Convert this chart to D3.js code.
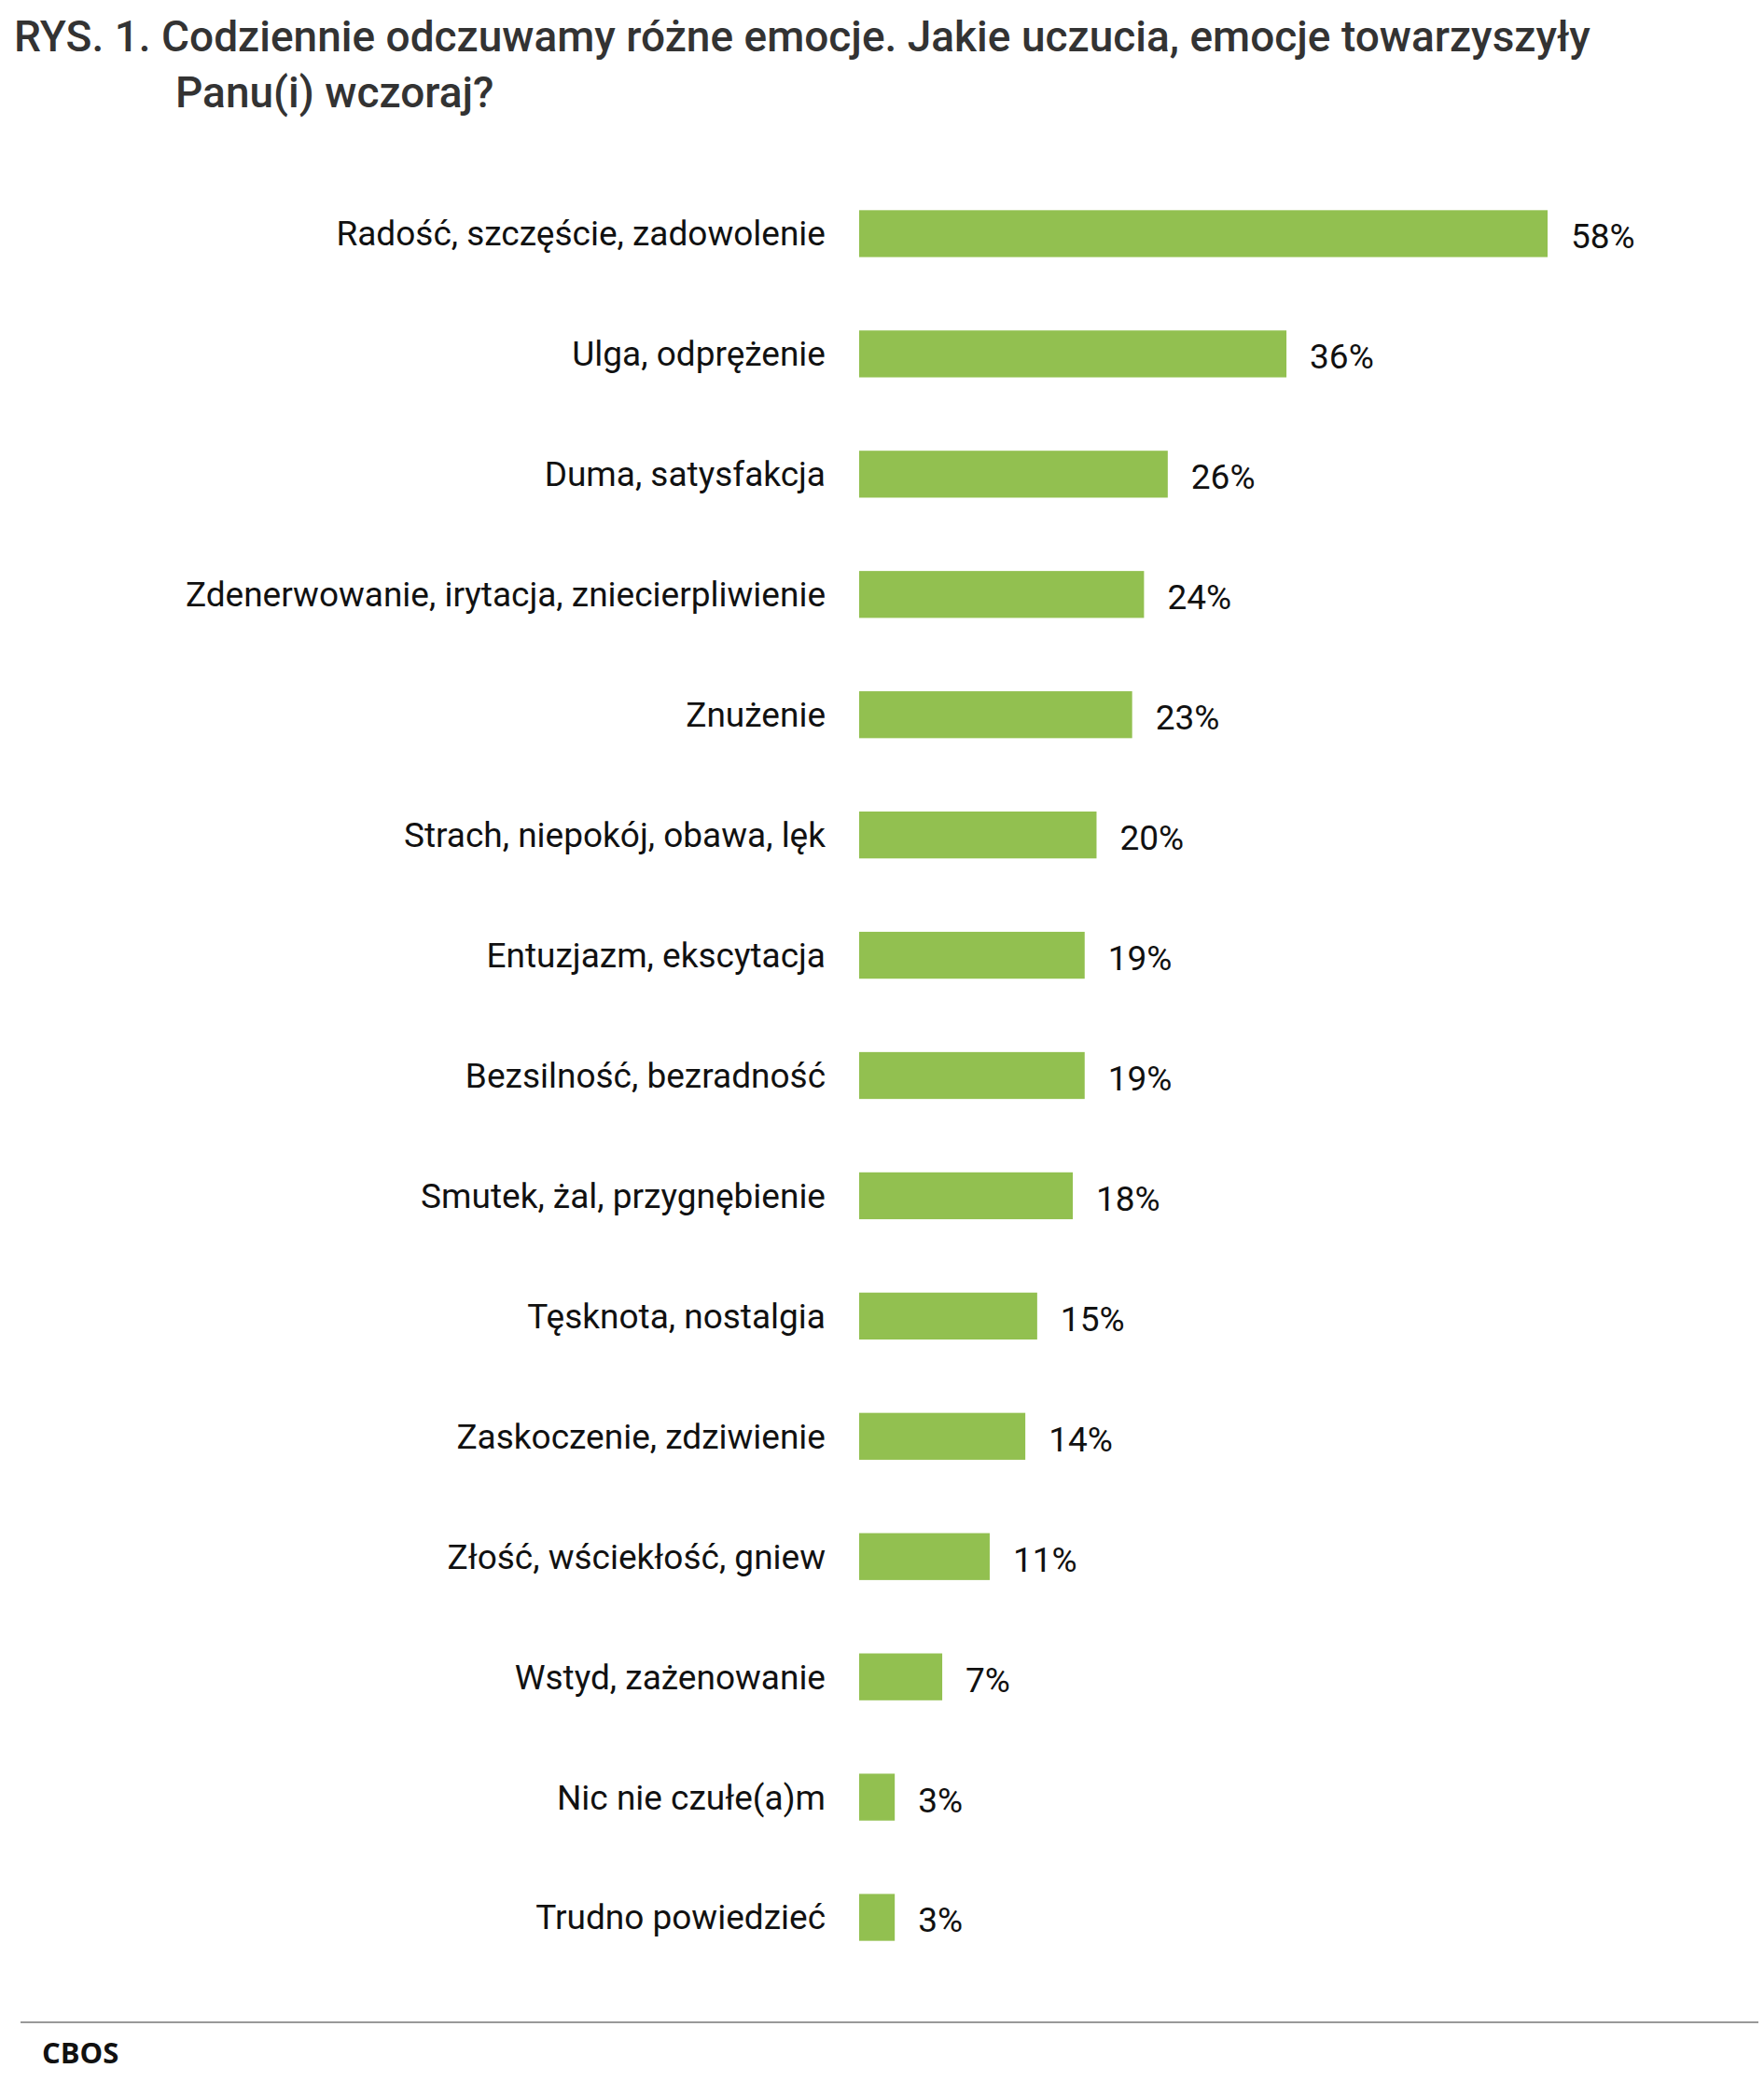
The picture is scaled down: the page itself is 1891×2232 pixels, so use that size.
<!DOCTYPE html>
<html>
<head>
<meta charset="utf-8">
<script src="https://cdn.jsdelivr.net/npm/d3@7"></script>
<style>
body{margin:0;background:#fff;}
svg{display:block;font-family:Roboto,sans-serif;}
</style>
</head>
<body>
<svg id="chart" width="1891" height="2232"></svg>
<script>
const categories=["Radość, szczęście, zadowolenie","Ulga, odprężenie","Duma, satysfakcja","Zdenerwowanie, irytacja, zniecierpliwienie","Znużenie","Strach, niepokój, obawa, lęk","Entuzjazm, ekscytacja","Bezsilność, bezradność","Smutek, żal, przygnębienie","Tęsknota, nostalgia","Zaskoczenie, zdziwienie","Złość, wściekłość, gniew","Wstyd, zażenowanie","Nic nie czułe(a)m","Trudno powiedzieć"];
const values=[58,36,26,24,23,20,19,19,18,15,14,11,7,3,3];

const svg=d3.select("#chart");
const x=d3.scaleLinear().domain([0,58]).range([921,1659]);
const y=d3.scaleBand().domain(categories).range([186,2120]).paddingInner(0.61).paddingOuter(0.305);

// title
const t=svg.append("text").attr("fill","#333").attr("font-size",46).attr("font-weight",500);
t.append("tspan").attr("x",15).attr("y",55).text("RYS. 1. Codziennie odczuwamy różne emocje. Jakie uczucia, emocje towarzyszyły");
t.append("tspan").attr("x",188).attr("y",115).text("Panu(i) wczoraj?");

svg.selectAll("rect.bar").data(values).enter().append("rect")
  .attr("class","bar").attr("fill","#92c050")
  .attr("x",x(0)).attr("y",(d,i)=>y(categories[i]))
  .attr("width",d=>x(d)-x(0)).attr("height",y.bandwidth());

svg.selectAll("text.cat").data(categories).enter().append("text")
  .attr("class","cat").attr("x",885).attr("y",d=>y(d)+y.bandwidth()/2)
  .attr("dy","0.35em").attr("text-anchor","end").attr("font-size",37).attr("fill","#111")
  .text(d=>d);

svg.selectAll("text.val").data(values).enter().append("text")
  .attr("class","val").attr("x",d=>x(d)+25).attr("y",(d,i)=>y(categories[i])+y.bandwidth()/2+3)
  .attr("dy","0.35em").attr("font-size",37).attr("fill","#111")
  .text(d=>d+"%");

svg.append("line").attr("x1",22).attr("x2",1885).attr("y1",2168).attr("y2",2168)
  .attr("stroke","#999").attr("stroke-width",2);
svg.append("text").attr("x",45).attr("y",2212).attr("font-family","'Open Sans',sans-serif")
  .attr("font-weight",700).attr("font-size",31).attr("fill","#111").text("CBOS");
</script>
</body>
</html>
